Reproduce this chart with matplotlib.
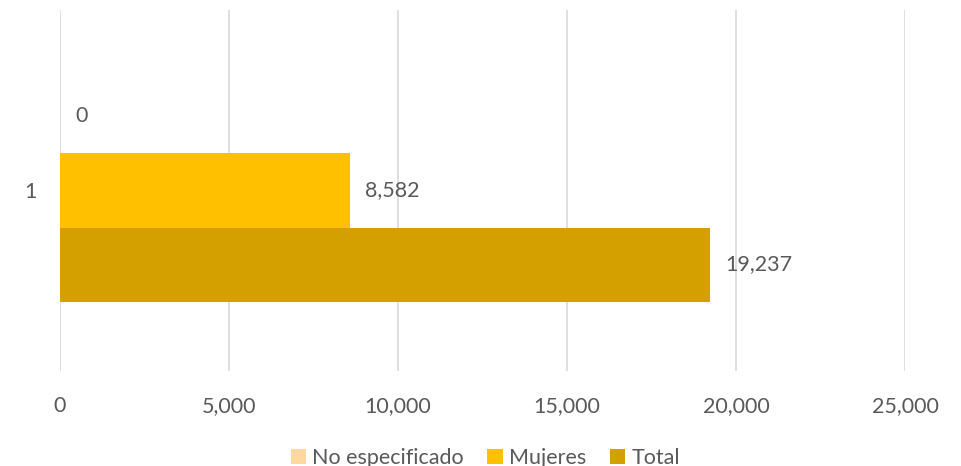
import matplotlib.pyplot as plt
import numpy as np

categories = ["1"]
series_names = ["No especificado", "Mujeres", "Total"]
series_values = [[0], [8582], [19237]]
colors = ["#FFD8A0", "#FFC000", "#D4A000"]

plt.rcParams['font.family'] = ['Lato', 'DejaVu Sans']
text_color = "#595959"
fs = 15.5

fig = plt.figure(figsize=(9.61, 4.66), dpi=100)
ax = fig.add_axes([60 / 961, 1 - 371 / 466, 845 / 961, 361 / 466])

y = np.arange(len(categories))
h = 0.205
offsets = [h, 0, -h]
for name, vals, col, off in zip(series_names, series_values, colors, offsets):
    bars = ax.barh(y + off, vals, height=h, color=col, label=name, zorder=2)
    for b, v in zip(bars, vals):
        ax.annotate(f"{v:,}", (b.get_width(), b.get_y() + b.get_height() / 2),
                    xytext=(11, 0), textcoords="offset points", va="center",
                    ha="left", fontsize=fs, color=text_color)

ax.set_xlim(0, 25000)
ax.set_ylim(-0.5, 0.5)
ax.set_xticks(np.arange(0, 25001, 5000))
ax.set_xticklabels([f"{t:,}" for t in range(0, 25001, 5000)])
ax.set_yticks(y)
ax.set_yticklabels(categories)
ax.grid(axis='x', color="#D9D9D9", linewidth=1.2, zorder=0)
for s in ax.spines.values():
    s.set_visible(False)
ax.tick_params(length=0, labelsize=fs, colors=text_color)
ax.tick_params(axis='x', pad=18)
ax.tick_params(axis='y', pad=17)

fig.legend(loc="lower center", bbox_to_anchor=(0.505, -0.045), ncol=3, frameon=False,
           fontsize=fs, handlelength=0.7, handleheight=0.7, handletextpad=0.3,
           columnspacing=1.1, labelcolor=text_color)

fig.savefig("out.png", dpi=100)
